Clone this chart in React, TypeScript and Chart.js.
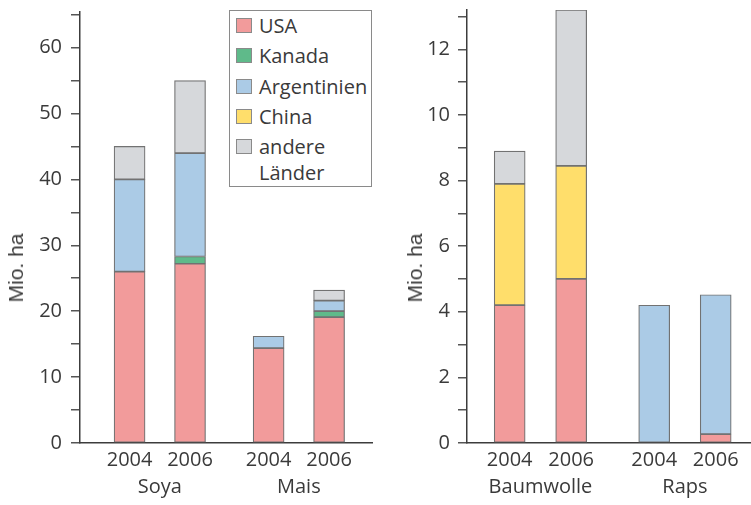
import React, { useEffect, useRef } from "react";
import { Chart, registerables } from "chart.js";
Chart.register(...registerables);

// ---- data ----
const countries = ["USA", "Kanada", "Argentinien", "China", "andere Länder"];
const countryColors = ["#f29b9b", "#5fba8a", "#abcbe6", "#ffde6b", "#d6d8db"];
const years = ["2004", "2006"];

const leftGroups = ["Soya", "Mais"];
// bars: Soya 2004, Soya 2006, Mais 2004, Mais 2006
const leftUSA = [26.0, 27.2, 14.4, 19.1];
const leftKanada = [null, 1.1, null, 0.9];
const leftArgentinien = [14.0, 15.7, 1.8, 1.6];
const leftChina = [null, null, null, null];
const leftAndere = [5.0, 11.0, null, 1.6];
const leftTickLabels = [0, 10, 20, 30, 40, 50, 60];

const rightGroups = ["Baumwolle", "Raps"];
// bars: Baumwolle 2004, Baumwolle 2006, Raps 2004, Raps 2006
const rightUSA = [4.2, 5.0, null, 0.27];
const rightKanada = [null, null, null, null];
const rightArgentinien = [null, null, 4.2, 4.25];
const rightChina = [3.7, 3.45, null, null];
const rightAndere = [1.0, 4.75, null, null];
const rightTickLabels = [0, 2, 4, 6, 8, 10, 12];

const TEXT = "#3a3a3a";
const AXIS = "#3c3c3c";
const FONT = '"Open Sans", "DejaVu Sans", sans-serif';

type PanelProps = {
  left: number;
  width: number;
  height: number;
  groups: string[];
  series: (number | null)[][];
  yMax: number;
  yStep: number;
  yLabels: number[];
  groupGap: number;
  xMin: number;
  xMax: number;
  yAxisWidth: number;
  padTop: number;
  padRight: number;
  tickPad: number;
};

function Panel(p: PanelProps) {
  const ref = useRef<HTMLCanvasElement | null>(null);
  useEffect(() => {
    if (!ref.current) return;
    const pos = (i: number) => Math.floor(i / years.length) * (years.length - 1 + p.groupGap) + (i % years.length);
    const nBars = p.groups.length * years.length;
    const barPositions = Array.from({ length: nBars }, (_, i) => pos(i));
    const groupCenters = p.groups.map((_, g) => (pos(g * years.length) + pos(g * years.length + years.length - 1)) / 2);

    const datasets = countries.map((c, ci) => ({
      label: c,
      data: p.series[ci].map((v, i) => ({ x: barPositions[i], y: v })),
      backgroundColor: countryColors[ci],
      borderColor: "#727272",
      borderWidth: 1.2,
      borderSkipped: false as const,
      barThickness: 31,
    }));

    const zeroPad = (s: any) => {
      s.paddingTop = 0;
      s.paddingBottom = 0;
      s.paddingLeft = 0;
      s.paddingRight = 0;
    };

    const chart = new Chart(ref.current, {
      type: "bar",
      data: { datasets: datasets as any },
      options: {
        animation: false,
        responsive: false,
        maintainAspectRatio: false,
        layout: { padding: { top: p.padTop, right: p.padRight, left: 0, bottom: 0 } },
        plugins: { legend: { display: false }, tooltip: { enabled: false } },
        scales: {
          x: {
            type: "linear",
            position: "bottom",
            weight: 0,
            stacked: true,
            offset: false,
            min: p.xMin,
            max: p.xMax,
            grid: { display: false, drawTicks: false },
            border: { display: true, color: AXIS, width: 1.5 },
            afterBuildTicks: (axis: any) => {
              axis.ticks = barPositions.map((v) => ({ value: v }));
            },
            afterFit: (s: any) => {
              s.height = 28;
              zeroPad(s);
            },
            ticks: {
              autoSkip: false,
              maxRotation: 0,
              padding: 5,
              color: TEXT,
              font: { family: FONT, size: 20 },
              callback: (v: any) => {
                const i = barPositions.findIndex((b) => Math.abs(b - Number(v)) < 1e-6);
                return i >= 0 ? years[i % years.length] : "";
              },
            },
          },
          x2: {
            type: "linear",
            position: "bottom",
            weight: 1,
            offset: false,
            min: p.xMin,
            max: p.xMax,
            grid: { display: false, drawTicks: false },
            border: { display: false },
            afterBuildTicks: (axis: any) => {
              axis.ticks = groupCenters.map((v) => ({ value: v }));
            },
            afterFit: (s: any) => {
              s.height = p.height - 443 - 28;
              zeroPad(s);
            },
            ticks: {
              autoSkip: false,
              maxRotation: 0,
              padding: 4,
              color: TEXT,
              font: { family: FONT, size: 20 },
              callback: (v: any) => {
                const i = groupCenters.findIndex((b) => Math.abs(b - Number(v)) < 1e-6);
                return i >= 0 ? p.groups[i] : "";
              },
            },
          },
          y: {
            type: "linear",
            stacked: true,
            min: 0,
            max: p.yMax,
            grid: { drawOnChartArea: false, drawTicks: true, tickLength: 9, color: "#555", lineWidth: 1.5 },
            border: { display: true, color: AXIS, width: 1.5 },
            afterFit: (s: any) => {
              s.width = p.yAxisWidth;
              zeroPad(s);
            },
            ticks: {
              stepSize: p.yStep,
              includeBounds: false,
              padding: p.tickPad,
              color: TEXT,
              font: { family: FONT, size: 20 },
              callback: (v: any) => (p.yLabels.includes(Number(v)) ? String(v) : ""),
            },
          },
        },
      } as any,
    });
    return () => chart.destroy();
  }, []);
  return (
    <canvas
      ref={ref}
      width={p.width}
      height={p.height}
      style={{ position: "absolute", left: p.left, top: 0, width: p.width, height: p.height, display: "block" }}
    />
  );
}

function AxisTitle({ cx, cy }: { cx: number; cy: number }) {
  return (
    <div
      style={{
        position: "absolute",
        left: cx,
        top: cy,
        transform: "translate(-50%, -50%) rotate(-90deg)",
        whiteSpace: "nowrap",
        fontFamily: '"Liberation Sans", Arial, sans-serif',
        fontSize: 21,
        color: TEXT,
        lineHeight: "24px",
      }}
    >
      Mio. ha
    </div>
  );
}

function Legend() {
  return (
    <div
      style={{
        position: "absolute",
        left: 229,
        top: 10,
        width: 143,
        height: 177,
        boxSizing: "border-box",
        border: "1px solid #8a8a8a",
        background: "#fff",
        fontFamily: FONT,
        fontSize: 20,
        color: TEXT,
      }}
    >
      {countries.map((c, i) => (
        <div key={c} style={{ position: "absolute", left: 0, top: 2 + i * 30.3, width: 141 }}>
          <div
            style={{
              position: "absolute",
              left: 6,
              top: 5,
              width: 16,
              height: 15,
              boxSizing: "border-box",
              background: countryColors[i],
              border: "1px solid #8a8a8a",
            }}
          />
          <div style={{ position: "absolute", left: 29, top: 0, width: 110, lineHeight: "26px" }}>{c}</div>
        </div>
      ))}
    </div>
  );
}

export default function App() {
  return (
    <div style={{ position: "absolute", left: 0, top: 0, width: 751, height: 505, background: "#fff", overflow: "hidden" }}>
      <Panel
        left={0}
        width={380}
        height={505}
        groups={leftGroups}
        series={[leftUSA, leftKanada, leftArgentinien, leftChina, leftAndere]}
        yMax={65.4}
        yStep={5}
        yLabels={leftTickLabels}
        groupGap={1.3}
        xMin={-0.82}
        xMax={4.01}
        yAxisWidth={80}
        padTop={12}
        padRight={8}
        tickPad={9}
      />
      <Panel
        left={380}
        width={371}
        height={505}
        groups={rightGroups}
        series={[rightUSA, rightKanada, rightArgentinien, rightChina, rightAndere]}
        yMax={13.2}
        yStep={1}
        yLabels={rightTickLabels}
        groupGap={1.35}
        xMin={-0.694}
        xMax={3.924}
        yAxisWidth={87}
        padTop={10}
        padRight={0}
        tickPad={8}
      />
      <AxisTitle cx={16} cy={268} />
      <AxisTitle cx={415} cy={268} />
      <Legend />
    </div>
  );
}
